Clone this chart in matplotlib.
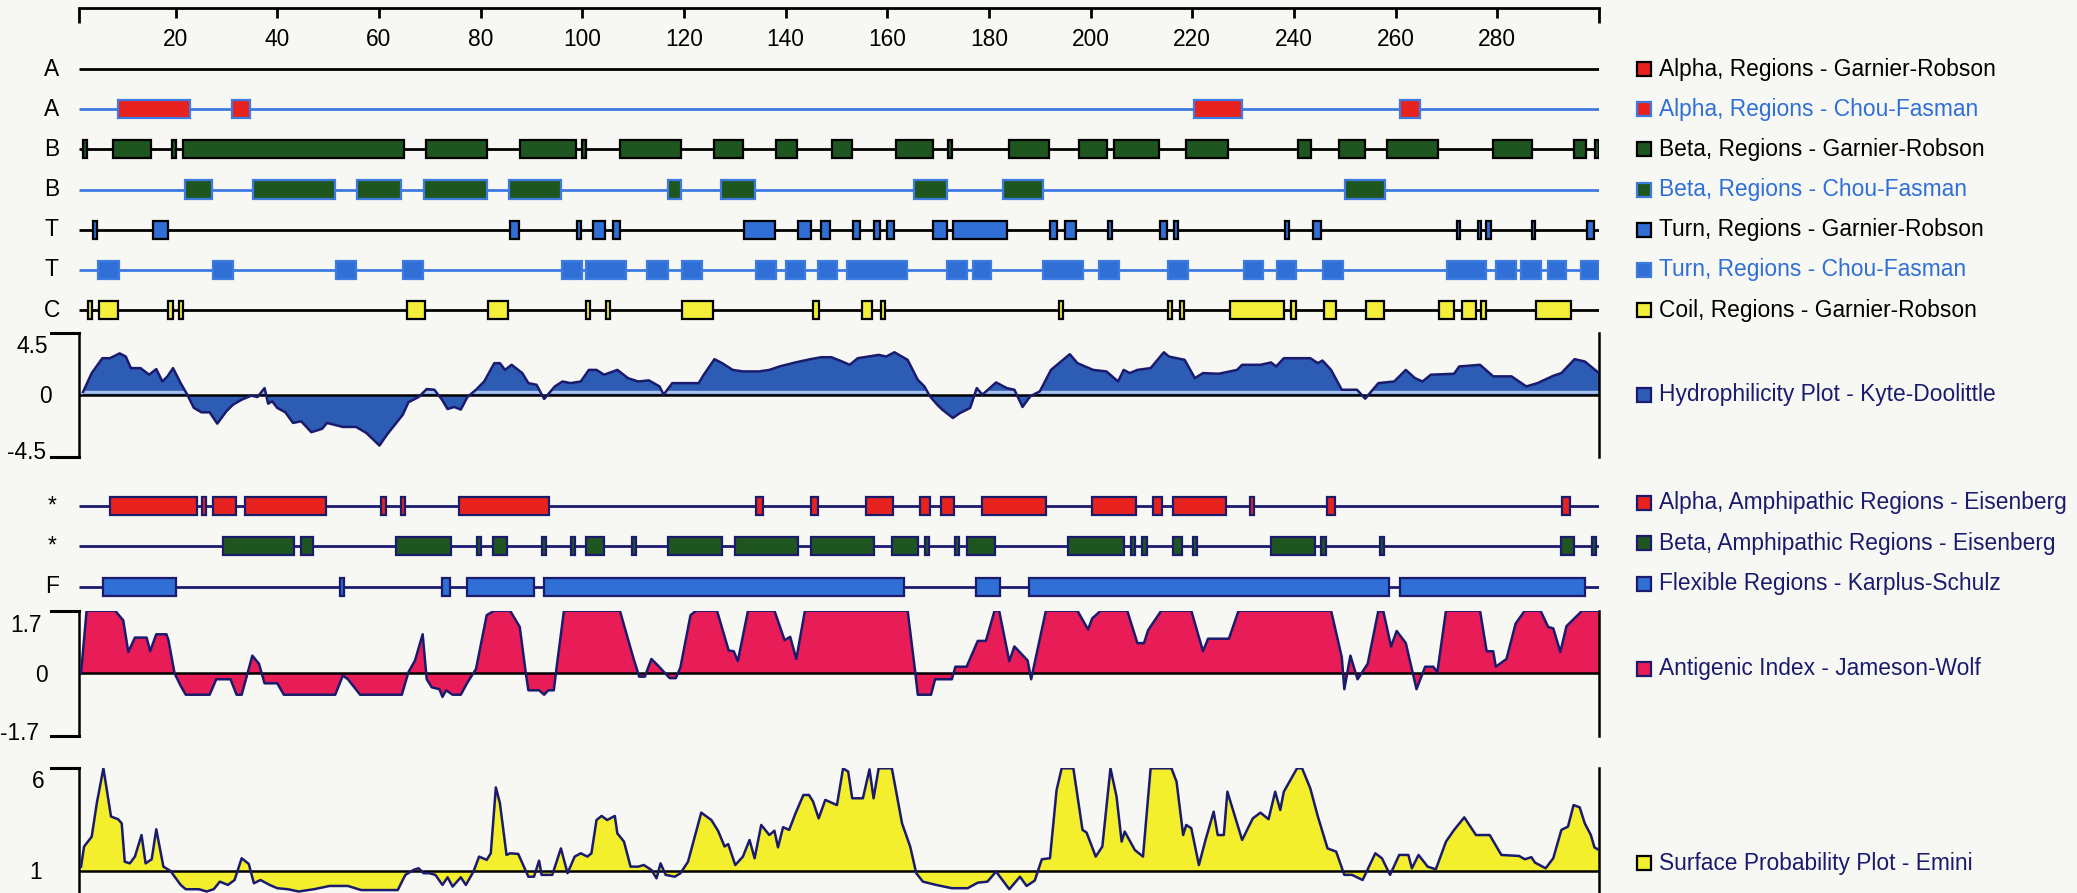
import numpy as np
import matplotlib
matplotlib.use("Agg")
import matplotlib.pyplot as plt
from matplotlib.patches import Rectangle
from matplotlib.transforms import blended_transform_factory

plt.rcParams['font.family'] = ['Liberation Sans', 'DejaVu Sans']

# ---------------- data (residue positions) ----------------
ruler_ticks = [20, 40, 60, 80, 100, 120, 140, 160, 180, 200, 220, 240, 260, 280]

alpha_gr = []
alpha_cf = [(8.6, 22.8), (31.1, 34.7), (220.4, 229.7), (260.9, 264.7)]
beta_gr = [(1.8, 2.6), (7.6, 15.1), (19.2, 20.0), (21.5, 65.0), (69.3, 81.2), (87.8, 98.8),
           (99.9, 100.7), (107.5, 119.4), (126.0, 131.6), (138.2, 142.2), (149.1, 153.0),
           (161.7, 168.9), (171.9, 172.7), (184.0, 191.8), (197.7, 203.3), (204.6, 213.4),
           (218.7, 227.1), (240.7, 243.3), (248.8, 254.0), (258.2, 268.3), (279.1, 286.9),
           (295.0, 297.4), (299.3, 300.0)]
beta_cf = [(21.8, 27.1), (35.3, 51.4), (55.7, 64.3), (68.9, 81.2), (85.6, 95.8), (116.9, 119.4),
           (127.3, 134.0), (165.3, 171.7), (182.8, 190.6), (250.0, 258.0)]
turn_gr = [(3.7, 4.5), (15.5, 18.6), (85.8, 87.5), (99.0, 99.8), (102.1, 104.4), (106.0, 107.4),
           (131.9, 138.0), (142.4, 144.9), (146.9, 148.8), (153.3, 154.6), (157.3, 158.5),
           (159.9, 161.3), (169.0, 171.7), (173.0, 183.6), (192.0, 193.3), (195.0, 197.2),
           (203.4, 204.2), (213.6, 215.0), (216.4, 217.2), (238.3, 239.1), (243.8, 245.4),
           (272.1, 272.7), (276.1, 276.7), (277.8, 278.8), (286.9, 287.5), (297.7, 299.0)]
turn_cf = [(4.8, 8.8), (27.4, 31.2), (51.6, 55.5), (64.8, 68.6), (96.0, 99.9), (100.7, 108.6),
           (112.7, 116.8), (119.7, 123.6), (134.2, 138.1), (140.1, 143.8), (146.3, 150.2),
           (152.0, 163.8), (171.8, 175.6), (176.9, 180.4), (190.6, 198.5), (201.6, 205.5),
           (215.2, 219.1), (230.1, 234.0), (236.6, 240.4), (245.7, 249.6), (270.1, 277.8),
           (279.7, 283.6), (284.6, 288.6), (289.9, 293.5), (296.4, 300.0)]
coil_gr = [(2.7, 3.5), (5.0, 8.6), (18.6, 19.4), (20.6, 21.4), (65.6, 69.1), (81.5, 85.3),
           (100.7, 101.5), (104.7, 105.5), (119.7, 125.7), (145.3, 146.6), (155.0, 157.0),
           (158.8, 159.6), (193.7, 194.5), (215.2, 216.0), (217.6, 218.4), (227.4, 238.0),
           (239.5, 240.3), (246.0, 248.3), (254.2, 257.7), (268.5, 271.5), (273.0, 275.8),
           (276.8, 277.8), (287.6, 294.5)]

alpha_amph = [(7.0, 24.2), (25.1, 25.9), (27.4, 31.9), (33.6, 49.5), (60.5, 61.3), (64.3, 65.1),
              (75.7, 93.5), (134.2, 135.6), (144.9, 146.3), (155.9, 161.2), (166.5, 168.4),
              (170.6, 173.1), (178.6, 191.3), (200.3, 208.9), (212.3, 214.1), (216.2, 226.7),
              (231.3, 232.1), (246.5, 248.0), (292.7, 294.3)]
beta_amph = [(29.4, 43.2), (44.7, 47.1), (63.4, 74.2), (79.3, 80.1), (82.5, 85.1), (92.1, 92.9),
             (97.7, 98.5), (100.7, 104.3), (109.8, 110.6), (116.8, 127.5), (130.1, 142.5),
             (145.0, 157.3), (160.9, 166.1), (167.5, 168.3), (173.3, 174.1), (175.6, 181.1),
             (195.6, 206.6), (207.9, 208.7), (210.2, 211.0), (216.2, 218.0), (220.2, 221.0),
             (235.5, 244.2), (245.4, 246.2), (257.0, 257.8), (292.6, 295.0), (298.6, 299.4)]
flexible = [(5.7, 20.0), (52.4, 53.2), (72.5, 74.0), (77.3, 90.6), (92.5, 163.3), (177.4, 182.2),
            (187.8, 258.7), (260.8, 297.2)]

hyd_x = [1.8, 3.5, 5.6, 7.1, 9.0, 10.2, 11.2, 13.1, 14.8, 16.2, 17.4, 18.4, 19.5, 21.0, 22.3, 23.6,
         25.1, 26.7, 28.2, 30.0, 31.3, 33.0, 34.9, 36.1, 37.5, 38.2, 39.0, 40.0, 41.6, 43.1, 44.7,
         46.7, 48.8, 49.8, 52.9, 55.5, 57.5, 60.1, 61.6, 64.7, 65.8, 67.8, 69.4, 70.9, 72.4, 73.5,
         74.8, 76.1, 77.4, 79.1, 80.7, 82.7, 83.8, 84.8, 86.1, 88.2, 89.4, 91.0, 92.5, 94.6, 96.1,
         97.7, 99.7, 101.3, 102.8, 104.3, 106.9, 109.0, 111.0, 113.1, 115.2, 116.0, 117.7, 122.9,
         123.9, 126.0, 127.5, 129.6, 131.6, 134.7, 136.8, 138.8, 141.9, 144.9, 147.0, 149.0, 151.1,
         152.6, 154.2, 158.3, 159.8, 161.4, 164.0, 166.0, 167.3, 168.4, 169.8, 170.8, 172.9, 174.3,
         176.3, 177.6, 178.7, 181.4, 183.5, 185.0, 186.6, 188.1, 190.0, 192.2, 195.9, 197.4, 200.5,
         203.1, 205.4, 206.5, 207.7, 209.2, 211.8, 214.4, 215.4, 218.5, 220.5, 222.1, 225.2, 228.8,
         229.8, 233.4, 235.5, 236.5, 238.0, 243.2, 244.7, 245.6, 247.3, 249.4, 252.4, 254.0, 256.6,
         259.7, 262.0, 263.8, 265.3, 266.9, 271.5, 272.5, 276.6, 279.2, 282.8, 285.7, 287.9, 291.0,
         292.6, 295.2, 297.2, 300.0]
hyd_y = [0.2, 1.57, 2.65, 2.65, 3.0, 2.77, 1.93, 1.93, 1.45, 1.86, 0.96, 1.33, 1.93, 0.84, 0.0, -0.96,
         -1.28, -1.28, -2.1, -1.2, -0.72, -0.36, -0.07, -0.17, 0.48, -0.65, -0.48, -0.96, -1.28, -2.05,
         -1.93, -2.72, -2.48, -2.05, -2.34, -2.34, -2.77, -3.69, -2.89, -1.45, -0.55, -0.17, 0.41, 0.36,
         -0.36, -1.04, -0.89, -1.08, -0.17, 0.36, 0.96, 2.29, 2.29, 1.8, 2.17, 1.57, 0.84, 0.72, -0.31,
         0.6, 0.96, 0.84, 0.96, 1.8, 1.8, 1.45, 1.8, 1.2, 0.96, 1.04, 0.6, 0.0, 0.84, 0.84, 1.45, 2.58,
         2.29, 1.8, 1.69, 1.69, 1.8, 2.05, 2.34, 2.58, 2.72, 2.72, 2.41, 2.17, 2.65, 2.89, 2.77, 3.08,
         2.53, 1.08, 0.6, -0.12, -0.72, -1.08, -1.69, -1.33, -0.96, 0.48, 0.0, 0.89, 0.48, 0.36, -0.89,
         -0.12, 0.24, 1.8, 2.94, 2.29, 1.8, 1.69, 0.96, 1.8, 1.57, 1.8, 1.93, 3.08, 2.77, 2.53, 1.2,
         1.57, 1.52, 1.8, 2.17, 2.17, 2.34, 2.05, 2.65, 2.65, 2.29, 2.48, 1.8, 0.36, 0.36, -0.29, 0.84,
         0.96, 1.8, 1.2, 0.96, 1.45, 1.52, 2.05, 2.17, 1.33, 1.33, 0.6, 0.84, 1.37, 1.57, 2.58, 2.41,
         1.57]

anti_x = [1.4, 2.5, 8.1, 9.7, 10.7, 12.0, 14.3, 15.0, 16.2, 18.2, 18.6, 19.8, 21.0, 22.0, 26.7, 28.0,
          30.8, 32.0, 33.0, 35.1, 36.4, 37.5, 40.0, 41.3, 51.4, 52.9, 53.9, 56.3, 64.5, 65.8, 67.1,
          68.6, 69.4, 70.4, 71.9, 72.5, 73.2, 74.5, 76.1, 77.4, 79.1, 81.2, 82.7, 85.8, 87.7, 88.9,
          89.4, 91.5, 92.5, 93.3, 94.4, 94.8, 96.4, 107.4, 110.0, 111.2, 112.3, 113.6, 114.9, 117.2,
          118.4, 119.3, 121.3, 122.4, 126.5, 128.8, 129.8, 130.6, 132.6, 137.8, 139.8, 140.9, 142.1,
          143.8, 164.0, 165.5, 166.0, 168.6, 169.4, 172.7, 173.4, 175.6, 177.8, 179.4, 181.1, 182.0,
          184.0, 185.0, 187.6, 188.3, 191.2, 197.4, 199.5, 200.3, 202.0, 207.2, 209.2, 210.5, 211.3,
          213.9, 219.8, 222.1, 223.1, 227.2, 229.1, 247.3, 249.4, 249.9, 251.1, 252.5, 254.5, 256.6,
          257.6, 259.1, 260.2, 262.0, 264.1, 265.8, 267.4, 268.2, 269.9, 276.6, 277.9, 279.2, 279.7,
          281.8, 283.6, 285.4, 288.5, 290.0, 291.0, 292.4, 293.6, 296.7, 300.0]
anti_y = [0.0, 1.7, 1.7, 1.44, 0.58, 0.97, 0.97, 0.6, 1.06, 1.06, 0.9, 0.0, -0.34, -0.58, -0.58, -0.16,
          -0.16, -0.58, -0.58, 0.48, 0.26, -0.27, -0.27, -0.58, -0.58, -0.06, -0.16, -0.58, -0.58, 0.03,
          0.35, 1.06, -0.16, -0.38, -0.43, -0.64, -0.46, -0.58, -0.58, -0.25, 0.12, 1.58, 1.7, 1.7,
          1.26, 0.0, -0.46, -0.46, -0.58, -0.46, -0.46, 0.0, 1.7, 1.7, 0.44, -0.09, -0.09, 0.39, 0.21,
          -0.13, -0.13, 0.16, 1.58, 1.7, 1.7, 0.62, 0.6, 0.33, 1.7, 1.7, 0.9, 0.99, 0.39, 1.7, 1.7, 0.03,
          -0.58, -0.58, -0.16, -0.16, 0.18, 0.18, 0.88, 0.88, 1.7, 1.7, 0.33, 0.73, 0.35, -0.16, 1.7,
          1.7, 1.19, 1.49, 1.7, 1.7, 0.82, 0.82, 1.17, 1.7, 1.7, 0.6, 0.94, 0.94, 1.7, 1.7, 0.44, -0.43,
          0.48, -0.16, 0.26, 1.7, 1.67, 0.73, 1.15, 0.82, -0.43, 0.18, 0.18, 0.03, 1.7, 1.7, 0.6, 0.6,
          0.18, 0.39, 1.35, 1.7, 1.7, 1.26, 1.22, 0.58, 1.28, 1.7, 1.7]

surf_x = [1.4, 2.0, 3.5, 4.5, 5.8, 7.3, 8.7, 9.4, 10.0, 11.0, 12.0, 13.3, 14.1, 15.3, 16.2, 17.6, 19.0,
          21.0, 22.0, 24.6, 26.1, 27.5, 28.7, 30.3, 31.6, 33.0, 34.4, 35.4, 36.7, 38.5, 40.0, 42.1,
          44.2, 47.2, 50.3, 53.9, 56.5, 63.7, 65.2, 66.8, 67.8, 68.8, 69.9, 71.1, 72.5, 73.5, 74.5,
          76.1, 77.1, 78.6, 79.7, 81.2, 82.0, 83.0, 83.8, 85.1, 85.8, 87.4, 89.4, 90.5, 91.5, 92.0,
          94.1, 95.8, 97.1, 98.5, 99.7, 101.0, 101.8, 102.8, 103.8, 104.9, 106.4, 106.9, 108.2, 109.5,
          111.0, 112.1, 113.6, 114.6, 115.4, 116.4, 118.2, 119.3, 120.8, 123.4, 125.4, 126.7, 128.0,
          128.7, 130.1, 131.6, 132.9, 133.9, 135.2, 136.8, 137.8, 138.5, 139.5, 140.7, 141.9, 143.5,
          144.6, 145.4, 146.5, 147.8, 150.1, 151.3, 152.3, 153.1, 155.2, 156.5, 157.3, 158.3, 160.9,
          162.9, 164.5, 165.7, 167.0, 169.6, 172.7, 175.8, 177.8, 179.7, 181.4, 184.0, 186.1, 187.4,
          189.0, 190.4, 192.0, 193.3, 194.3, 196.6, 198.4, 199.2, 201.0, 202.3, 203.9, 205.1, 206.1,
          206.7, 208.7, 210.3, 211.8, 215.9, 216.9, 218.2, 218.8, 219.8, 221.3, 222.6, 224.2, 225.0,
          226.2, 226.9, 228.3, 229.8, 231.9, 233.4, 235.0, 236.3, 237.3, 238.0, 240.6, 241.6, 243.2,
          244.7, 246.6, 248.3, 249.9, 251.4, 253.5, 256.0, 257.3, 258.9, 260.7, 262.5, 263.2, 264.5,
          266.3, 267.9, 269.9, 271.5, 273.5, 275.8, 278.5, 280.8, 282.8, 284.3, 285.4, 286.7, 287.4,
          289.5, 291.0, 292.6, 293.9, 295.0, 296.2, 297.2, 298.4, 299.1, 300.0]
surf_y = [1.21, 2.19, 2.67, 4.3, 6.0, 3.65, 3.52, 3.32, 1.45, 1.37, 1.7, 2.75, 1.37, 1.57, 3.03, 1.21,
          1.0, 0.32, 0.11, 0.11, 0.0, 0.11, 0.48, 0.32, 0.56, 1.62, 1.34, 0.4, 0.56, 0.32, 0.16, 0.11,
          0.0, 0.11, 0.27, 0.27, 0.07, 0.07, 0.81, 1.05, 1.13, 0.89, 0.89, 0.81, 0.32, 0.69, 0.24, 0.69,
          0.32, 0.97, 1.7, 1.54, 1.86, 5.07, 4.3, 1.78, 1.86, 1.83, 0.72, 0.72, 1.5, 0.81, 0.81, 2.1,
          0.89, 1.7, 1.86, 1.7, 1.86, 3.48, 3.68, 3.48, 3.68, 2.83, 2.43, 1.21, 1.21, 1.29, 1.05, 0.64,
          1.37, 0.81, 0.72, 0.89, 1.45, 3.84, 3.48, 2.96, 2.19, 2.31, 1.29, 1.7, 2.51, 1.62, 3.24, 2.75,
          2.96, 2.15, 3.13, 3.0, 3.78, 4.7, 4.7, 4.38, 3.56, 4.46, 4.21, 6.0, 5.84, 4.54, 4.54, 5.95,
          4.54, 6.0, 6.0, 3.32, 2.19, 0.89, 0.48, 0.32, 0.16, 0.16, 0.43, 0.48, 0.97, 0.11, 0.72, 0.27,
          0.53, 1.57, 1.62, 4.94, 6.0, 6.0, 3.0, 2.87, 1.7, 2.19, 6.0, 4.62, 2.43, 2.92, 2.02, 1.7, 6.0,
          6.0, 5.35, 2.75, 3.24, 3.08, 1.29, 2.51, 3.89, 2.75, 2.75, 4.86, 3.73, 2.51, 3.56, 3.84, 3.52,
          4.86, 3.97, 4.86, 6.0, 6.0, 5.03, 3.65, 2.1, 1.94, 0.81, 0.81, 0.56, 1.86, 1.62, 0.81, 1.78,
          1.78, 1.13, 1.78, 1.21, 1.08, 2.43, 3.0, 3.61, 2.75, 2.75, 1.78, 1.75, 1.73, 1.57, 1.67, 1.41,
          1.13, 1.62, 3.0, 3.16, 4.21, 4.1, 3.32, 2.75, 2.15, 2.02]

# ---------------- style ----------------
BG = '#f7f7f3'
RED = '#e8231f'
GREEN = '#1f561f'
BLUE = '#2f6fd6'
LBLUE = '#3d7be0'
YELLOW = '#f2ee3a'
NAVY = '#1b1b6e'
HYD = '#2c5cb4'
ANTI = '#e81d57'
SURF = '#f3ef2c'
XMIN, XMAX = 1, 300
FS = 16.4

W, H = 2077, 893
fig = plt.figure(figsize=(W / 100, H / 100), dpi=100, facecolor=BG)


def rect(top, bottom, left=79, right=1599):
    return [left / W, 1 - bottom / H, (right - left) / W, (bottom - top) / H]


def bare(ax):
    ax.set_facecolor('none')
    ax.set_xlim(XMIN, XMAX)
    ax.set_xticks([])
    ax.set_yticks([])
    for s in ax.spines.values():
        s.set_visible(False)


def track(ax, row, regions, face, edge, line, box_h):
    ax.plot([XMIN, XMAX], [row, row], color=line, lw=2, zorder=1, solid_capstyle='butt')
    for s, e in regions:
        ax.add_patch(Rectangle((s, row - box_h / 2), e - s, box_h, facecolor=face,
                               edgecolor=edge, lw=1.6, zorder=2))


def legend_item(ax, y, label, face, edge, tcolor):
    tr = blended_transform_factory(fig.transFigure, ax.transData)
    ax.plot([1644 / W], [y], marker='s', ms=10.5, mfc=face, mec=edge, mew=1.6,
            transform=tr, clip_on=False)
    ax.text(1659 / W, y, label, transform=tr, fontsize=FS, color=tcolor, va='center', ha='left')


# ---------------- upper tracks ----------------
ax1 = fig.add_axes(rect(0, 330))
bare(ax1)
ax1.set_ylim(6.497, -1.718)
ruler_y, tick_end, end_end, lab_y = -1.507, -1.262, -1.138, -0.739
ax1.plot([XMIN, XMAX], [ruler_y, ruler_y], color='black', lw=2, clip_on=False)
ax1.vlines(ruler_ticks, ruler_y, tick_end, color='black', lw=2)
ax1.vlines([XMIN, XMAX], ruler_y, end_end, color='black', lw=2, clip_on=False)
for t in ruler_ticks:
    ax1.text(t, lab_y, str(t), ha='center', va='center', fontsize=FS)

upper = [
    ('A', alpha_gr, RED, 'black', 'black', 'Alpha, Regions - Garnier-Robson', 'black'),
    ('A', alpha_cf, RED, LBLUE, LBLUE, 'Alpha, Regions - Chou-Fasman', BLUE),
    ('B', beta_gr, GREEN, 'black', 'black', 'Beta, Regions - Garnier-Robson', 'black'),
    ('B', beta_cf, GREEN, LBLUE, LBLUE, 'Beta, Regions - Chou-Fasman', BLUE),
    ('T', turn_gr, BLUE, 'black', 'black', 'Turn, Regions - Garnier-Robson', 'black'),
    ('T', turn_cf, BLUE, LBLUE, LBLUE, 'Turn, Regions - Chou-Fasman', BLUE),
    ('C', coil_gr, YELLOW, 'black', 'black', 'Coil, Regions - Garnier-Robson', 'black'),
]
for i, (lab, regs, face, edge, line, leg, tcol) in enumerate(upper):
    track(ax1, i, regs, face, edge, line, 0.45)
    ax1.text(-0.0179, i, lab, transform=ax1.get_yaxis_transform(), ha='center', va='center',
             fontsize=FS)
    legend_item(ax1, i, leg, face, edge, tcol)


# ---------------- profile panels ----------------
def profile(ax, xs, ys, base, face, lo, hi, labels, bottom_bracket=True):
    ax.set_facecolor('none')
    ax.set_xlim(XMIN, XMAX)
    ax.set_ylim(lo, hi)
    ax.set_xticks([])
    ax.set_yticks([])
    for k in ('top', 'bottom'):
        ax.spines[k].set_visible(False)
    for k in ('left', 'right'):
        ax.spines[k].set_linewidth(1.8)
    ax.fill_between(xs, base, ys, color=face, lw=0, zorder=1)
    ax.axhline(base, color='black', lw=1.8, zorder=3)
    ax.plot(xs, ys, color=NAVY, lw=1.8, zorder=4)
    tr = ax.get_yaxis_transform()
    ends = [hi, lo] if bottom_bracket else [hi]
    for yb in ends:
        ax.plot([-0.0184, 0], [yb, yb], color='black', lw=2.2, transform=tr, clip_on=False)
    for xf, yv, txt in labels:
        ax.text(xf, yv, txt, transform=tr, ha='right', va='center', fontsize=FS)


ax_h = fig.add_axes(rect(332.7, 456.7))
profile(ax_h, hyd_x, hyd_y, 0, HYD, -4.5, 4.5,
        [(-0.0204, 3.5, '4.5'), (-0.0176, -0.1, '0'), (-0.0217, -4.2, '-4.5')])
dense_x = np.linspace(XMIN, XMAX, 3000)
dense_y = np.interp(dense_x, hyd_x, hyd_y)
ax_h.fill_between(dense_x, 0.1, np.clip(dense_y, 0.1, 0.32), color='#a9c2ec', lw=0, zorder=2)
legend_item(ax_h, 0, 'Hydrophilicity Plot - Kyte-Doolittle', HYD, NAVY, NAVY)

# ---------------- lower tracks ----------------
ax2 = fig.add_axes(rect(470, 606))
bare(ax2)
ax2.set_ylim(2.477, -0.881)
lower = [
    ('*', alpha_amph, RED, 'Alpha, Amphipathic Regions - Eisenberg'),
    ('*', beta_amph, GREEN, 'Beta, Amphipathic Regions - Eisenberg'),
    ('F', flexible, BLUE, 'Flexible Regions - Karplus-Schulz'),
]
for i, (lab, regs, face, leg) in enumerate(lower):
    track(ax2, i, regs, face, NAVY, NAVY, 0.45)
    ax2.text(-0.0179, i, lab, transform=ax2.get_yaxis_transform(), ha='center', va='center',
             fontsize=FS)
    legend_item(ax2, i - 0.07, leg, face, NAVY, NAVY)

ax_a = fig.add_axes(rect(610.7, 736))
profile(ax_a, anti_x, anti_y, 0, ANTI, -1.7, 1.7,
        [(-0.0245, 1.3, '1.7'), (-0.0204, -0.06, '0'), (-0.0263, -1.62, '-1.7')])
legend_item(ax_a, 0.12, 'Antigenic Index - Jameson-Wolf', ANTI, NAVY, NAVY)

ax_s = fig.add_axes(rect(768.3, 895.6))
profile(ax_s, surf_x, surf_y, 1, SURF, -0.2, 6,
        [(-0.0227, 5.35, '6'), (-0.0245, 0.92, '1')], bottom_bracket=False)
legend_item(ax_s, 1.38, 'Surface Probability Plot - Emini', SURF, 'black', NAVY)

fig.savefig('out.png', dpi=100, facecolor=BG)
